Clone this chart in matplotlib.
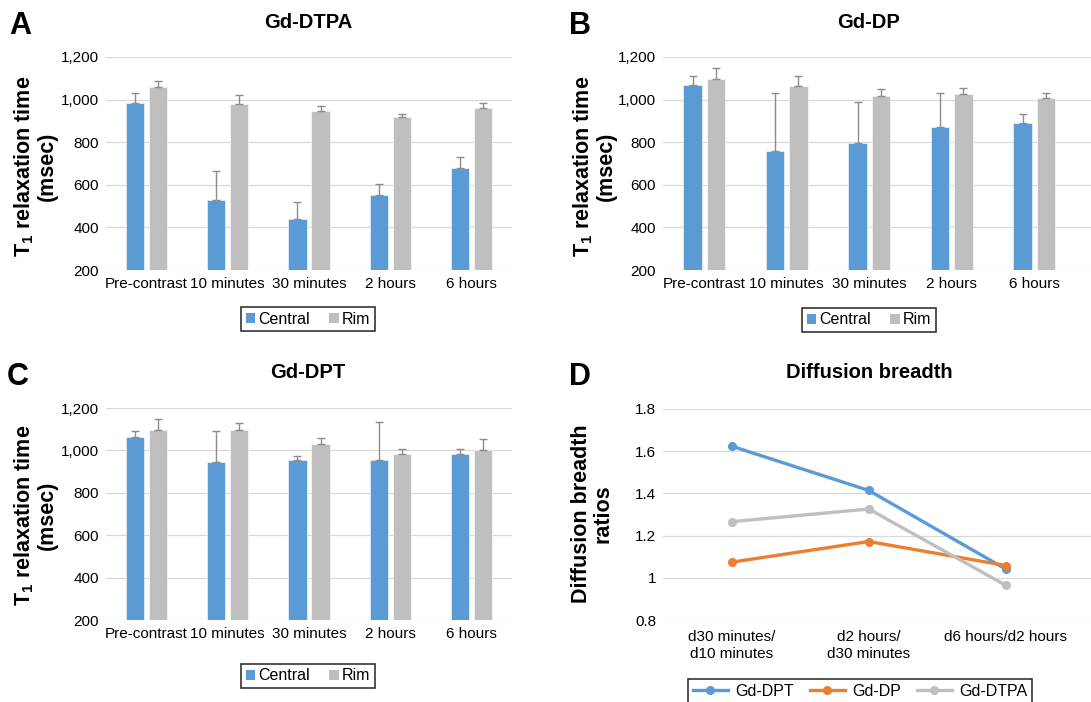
import matplotlib
matplotlib.use("Agg")
import matplotlib.pyplot as plt
import numpy as np
from matplotlib.patches import Patch
from matplotlib.lines import Line2D

plt.rcParams['font.family'] = ['Liberation Sans', 'DejaVu Sans']
plt.rcParams['mathtext.fontset'] = 'custom'
plt.rcParams['mathtext.rm'] = 'Liberation Sans'
plt.rcParams['mathtext.bf'] = 'Liberation Sans:bold'

categories = ["Pre-contrast", "10 minutes", "30 minutes", "2 hours", "6 hours"]

dtpa_central = [986, 528, 438, 550, 680]
dtpa_central_err = [47, 136, 82, 52, 50]
dtpa_rim = [1058, 977, 947, 920, 959]
dtpa_rim_err = [31, 43, 23, 13, 27]

dp_central = [1067, 759, 794, 873, 888]
dp_central_err = [42, 272, 195, 160, 45]
dp_rim = [1095, 1066, 1016, 1025, 1009]
dp_rim_err = [53, 45, 36, 30, 22]

dpt_central = [1063, 945, 953, 953, 983]
dpt_central_err = [28, 146, 22, 181, 23]
dpt_rim = [1098, 1096, 1030, 981, 1003]
dpt_rim_err = [52, 33, 28, 25, 52]

ratio_labels = ["d30 minutes/\nd10 minutes", "d2 hours/\nd30 minutes", "d6 hours/d2 hours"]
ratio_dpt = [1.624, 1.414, 1.041]
ratio_dp = [1.074, 1.172, 1.058]
ratio_dtpa = [1.266, 1.326, 0.964]

BLUE = "#5B9BD5"
GRAY = "#BFBFBF"
ORANGE = "#ED7D31"
GRID = "#D9D9D9"

W, H = 1091, 702
fig = plt.figure(figsize=(W / 100, H / 100), dpi=100)


def px_axes(l, t, r, b):
    return fig.add_axes([l / W, 1 - b / H, (r - l) / W, (b - t) / H])


def style(ax):
    for s in ax.spines.values():
        s.set_visible(False)
    ax.tick_params(length=0, labelsize=11, colors="#000000", pad=5)
    ax.yaxis.grid(True, color=GRID, lw=0.9)
    ax.set_axisbelow(True)


def bar_panel(ax, central, cerr, rim, rerr, xmax):
    x = np.arange(len(categories))
    w = 0.225
    off = 0.142
    ax.bar(x - off, central, w, color=BLUE, edgecolor="white", lw=0.4, zorder=2)
    ax.bar(x + off, rim, w, color=GRAY, edgecolor="white", lw=0.4, zorder=2)
    ax.errorbar(x - off, central, yerr=[np.zeros(len(cerr)), cerr], fmt="none",
                ecolor="#8C8C8C", elinewidth=1, capsize=3, capthick=1, zorder=3)
    ax.errorbar(x + off, rim, yerr=[np.zeros(len(rerr)), rerr], fmt="none",
                ecolor="#8C8C8C", elinewidth=1, capsize=3, capthick=1, zorder=3)
    ax.set_ylim(200, 1200)
    ax.set_yticks(range(200, 1201, 200))
    ax.set_yticklabels([f"{v:,}" for v in range(200, 1201, 200)])
    ax.set_xlim(-0.5, xmax)
    ax.set_xticks(x)
    ax.set_xticklabels(categories)
    style(ax)


axA = px_axes(106, 57, 512, 270)
bar_panel(axA, dtpa_central, dtpa_central_err, dtpa_rim, dtpa_rim_err, 4.5)
axB = px_axes(663, 57, 1091, 270)
bar_panel(axB, dp_central, dp_central_err, dp_rim, dp_rim_err, (1091 - 663) / 82.5 - 0.5)
axC = px_axes(106, 408, 512, 620)
bar_panel(axC, dpt_central, dpt_central_err, dpt_rim, dpt_rim_err, 4.5)

axD = px_axes(663, 409, 1091, 620)
xd = np.arange(len(ratio_labels))
for vals, col, lab in [(ratio_dpt, BLUE, "Gd-DPT"), (ratio_dp, ORANGE, "Gd-DP"), (ratio_dtpa, GRAY, "Gd-DTPA")]:
    axD.plot(xd, vals, color=col, lw=2.4, marker="o", ms=5.5, label=lab, zorder=3)
axD.set_ylim(0.8, 1.8)
axD.set_yticks([0.8, 1.0, 1.2, 1.4, 1.6, 1.8])
axD.set_yticklabels(["0.8", "1", "1.2", "1.4", "1.6", "1.8"])
axD.set_xlim(-0.5, (1091 - 663.5) / 137 - 0.5)
axD.set_xticks(xd)
axD.set_xticklabels(ratio_labels, linespacing=1.3)
style(axD)
axD.tick_params(axis="x", pad=7)


def ftext(x, y, s, **kw):
    fig.text(x / W, 1 - y / H, s, **kw)


ftext(308, 23, "Gd-DTPA", ha="center", va="center", fontsize=14.5, fontweight="bold")
ftext(869, 23, "Gd-DP", ha="center", va="center", fontsize=14.5, fontweight="bold")
ftext(308, 373, "Gd-DPT", ha="center", va="center", fontsize=14.5, fontweight="bold")
ftext(869, 373, "Diffusion breadth", ha="center", va="center", fontsize=14.5, fontweight="bold")

for (lx, ly, s) in [(20, 26, "A"), (580, 26, "B"), (18, 377, "C"), (580, 377, "D")]:
    ftext(lx, ly, s, ha="center", va="center", fontsize=22, fontweight="bold")

ylab = "T$_\\mathbf{1}$ relaxation time\n(msec)"
for (yx, yy, s) in [(35, 166, ylab), (594, 166, ylab), (35, 515, ylab),
                    (592, 514, "Diffusion breadth\nratios")]:
    ftext(yx, yy, s, ha="center", va="center", rotation=90, fontsize=15.5,
          fontweight="bold", linespacing=1.05)

bar_handles = [Patch(facecolor=BLUE, label="Central"), Patch(facecolor=GRAY, label="Rim")]
for (cx, cy) in [(308, 319), (869, 320), (308, 676)]:
    leg = fig.legend(handles=bar_handles, loc="center", bbox_to_anchor=(cx / W, 1 - cy / H),
                     ncol=2, fontsize=11.5, frameon=True, fancybox=False, handlelength=0.6,
                     handleheight=0.6, handletextpad=0.2, columnspacing=1.2, borderpad=0.3,
                     borderaxespad=0)
    leg.get_frame().set_edgecolor("black")
    leg.get_frame().set_linewidth(1.2)

line_handles = [Line2D([], [], color=c, lw=2.4, marker="o", ms=5.5, label=l)
                for c, l in [(BLUE, "Gd-DPT"), (ORANGE, "Gd-DP"), (GRAY, "Gd-DTPA")]]
leg = fig.legend(handles=line_handles, loc="center", bbox_to_anchor=(860 / W, 1 - 691 / H),
                 ncol=3, fontsize=11.5, frameon=True, fancybox=False, handlelength=2.2,
                 handletextpad=0.45, columnspacing=1.0, borderpad=0.3, borderaxespad=0)
leg.get_frame().set_edgecolor("black")
leg.get_frame().set_linewidth(1.2)

fig.savefig("out.png", dpi=100)
